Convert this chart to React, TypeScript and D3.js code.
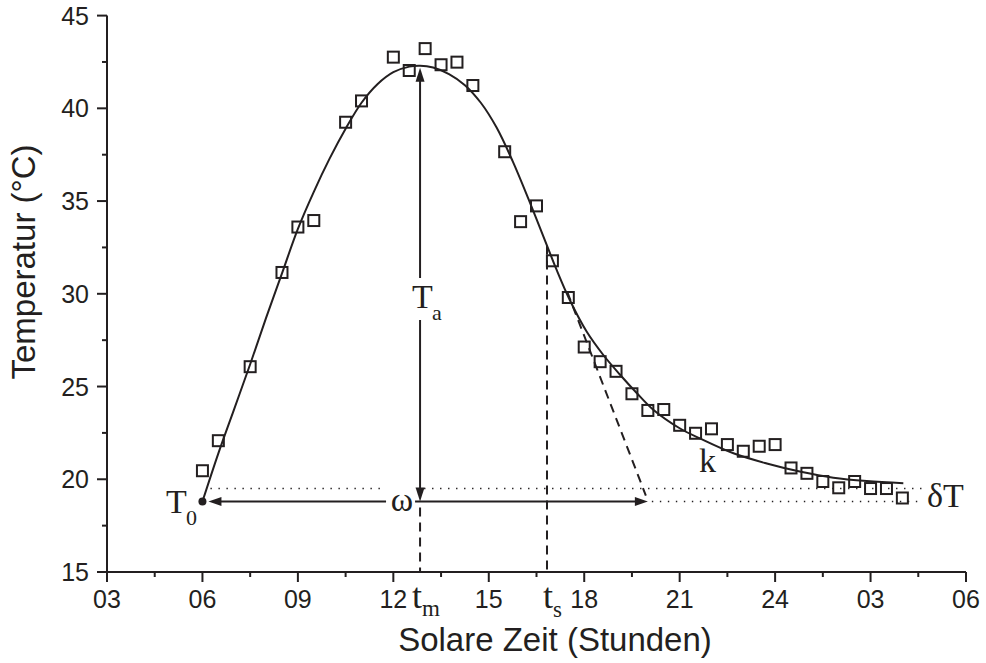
import React from "react";
import * as d3 from "d3";

// ---- data ----
const obsHours = [6.0, 6.5, 7.5, 8.5, 9.0, 9.5, 10.5, 11.0, 12.0, 12.5, 13.0, 13.5, 14.0, 14.5, 15.5, 16.0, 16.5, 17.0, 17.5, 18.0, 18.5, 19.0, 19.5, 20.0, 20.5, 21.0, 21.5, 22.0, 22.5, 23.0, 23.5, 24.0, 24.5, 25.0, 25.5, 26.0, 26.5, 27.0, 27.5, 28.0];
const obsTemps = [20.46, 22.08, 26.07, 31.15, 33.6, 33.95, 39.25, 40.4, 42.76, 42.04, 43.22, 42.35, 42.49, 41.23, 37.66, 33.89, 34.74, 31.78, 29.8, 27.13, 26.34, 25.82, 24.61, 23.71, 23.76, 22.91, 22.48, 22.72, 21.87, 21.51, 21.78, 21.87, 20.61, 20.32, 19.88, 19.54, 19.88, 19.5, 19.5, 18.99];

// fitted curve
const fitHours = [6.0, 6.5, 7.0, 7.5, 8.0, 8.5, 9.0, 9.5, 10.0, 10.5, 11.0, 11.5, 12.0, 12.5, 12.84, 13.25, 13.75, 14.25, 14.75, 15.25, 15.75, 16.25, 16.83, 17.13, 17.55, 18.08, 18.6, 19.12, 19.65, 20.17, 21.0, 21.64, 22.69, 23.74, 24.81, 25.83, 26.88, 28.03];
const fitTemps = [18.8, 21.4, 23.8, 26.2, 28.7, 31.1, 33.5, 35.5, 37.3, 38.9, 40.3, 41.3, 41.95, 42.25, 42.3, 42.2, 41.85, 41.25, 40.3, 38.95, 37.15, 35.1, 32.6, 31.3, 29.65, 27.95, 26.7, 25.65, 24.65, 23.75, 22.75, 22.2, 21.4, 20.85, 20.4, 20.08, 19.9, 19.79];

const xTickValues = [3, 6, 9, 12, 15, 18, 21, 24, 27, 30];
const xTickLabels = ["03", "06", "09", "12", "15", "18", "21", "24", "03", "06"];
const xMinorTicks = [4.5, 7.5, 10.5, 13.5, 16.5, 19.5, 22.5, 25.5, 28.5];
const yTickValues = [15, 20, 25, 30, 35, 40, 45];
const yMinorTicks = [17.5, 22.5, 27.5, 32.5, 37.5, 42.5];

// model parameters
const T0 = 18.8;
const T0dT = 19.5;
const tStart = 6.0;
const tm = 12.84;
const ts = 16.83;
const Tpeak = 42.24;
const Tts = 32.6;
const tangentStart = [17.47, 30.09];
const tangentEnd = [20.0, 18.8];

const INK = "#231f20";
const SANS = "'Liberation Sans', Arial, Helvetica, sans-serif";
const SERIF = "'Liberation Serif', 'Times New Roman', serif";

export default function App() {
  const W = 986, H = 663;
  const x = d3.scaleLinear().domain([3, 30]).range([107, 966]);
  const y = d3.scaleLinear().domain([15, 45]).range([572, 15.6]);

  const fitPts = fitHours.map((h, i) => [h, fitTemps[i]] as [number, number]);
  const line = d3
    .line<[number, number]>()
    .x((d) => x(d[0]))
    .y((d) => y(d[1]))
    .curve(d3.curveCatmullRom.alpha(0.5));

  const X = x(tm);
  const yT0 = y(T0);
  const yDT = y(T0dT);
  const yPeak = y(Tpeak);

  const tri = (tx: number, ty: number, dir: "up" | "down" | "left" | "right", len = 14, w = 9) => {
    const h = w / 2;
    switch (dir) {
      case "up":
        return `M${tx},${ty} L${tx - h},${ty + len} L${tx + h},${ty + len} Z`;
      case "down":
        return `M${tx},${ty} L${tx - h},${ty - len} L${tx + h},${ty - len} Z`;
      case "left":
        return `M${tx},${ty} L${tx + len},${ty - h} L${tx + len},${ty + h} Z`;
      default:
        return `M${tx},${ty} L${tx - len},${ty - h} L${tx - len},${ty + h} Z`;
    }
  };

  const leftTip = x(tStart) + 6;
  const rightTip = x(tangentEnd[0]);
  const sq = 11;

  return (
    <svg width={W} height={H} style={{ position: "absolute", left: 0, top: 0, background: "#fff" }}>
      {/* dotted reference lines */}
      <g stroke={INK} strokeWidth={1.4} strokeDasharray="1.4 6.6" fill="none">
        <line x1={x(tStart) + 8} y1={yDT} x2={X - 36} y2={yDT} />
        <line x1={X + 4} y1={yDT} x2={922} y2={yDT} />
        <line x1={rightTip + 4} y1={yT0} x2={920} y2={yT0} />
      </g>

      {/* dashed vertical lines tm, ts and tangent */}
      <g stroke={INK} strokeWidth={2} strokeDasharray="9 6" fill="none">
        <line x1={X} y1={yT0 + 6} x2={X} y2={y(15)} />
        <line x1={x(ts)} y1={y(Tts)} x2={x(ts)} y2={y(15)} />
        <line x1={x(tangentStart[0])} y1={y(tangentStart[1])} x2={x(tangentEnd[0]) - 2} y2={y(tangentEnd[1]) - 6} />
      </g>

      {/* fit curve */}
      <path d={line(fitPts) || ""} fill="none" stroke={INK} strokeWidth={2} />

      {/* observations */}
      <g fill="none" stroke={INK} strokeWidth={2}>
        {obsHours.map((h, i) => (
          <rect key={i} x={x(h) - sq / 2} y={y(obsTemps[i]) - sq / 2} width={sq} height={sq} />
        ))}
      </g>

      {/* Ta arrow */}
      <g stroke={INK} strokeWidth={2}>
        <line x1={X} y1={yPeak + 12} x2={X} y2={278} />
        <line x1={X} y1={320} x2={X} y2={yT0 - 12} />
      </g>
      <path d={tri(X, yPeak + 1, "up")} fill={INK} />
      <path d={tri(X, yT0, "down")} fill={INK} />

      {/* omega arrow */}
      <g stroke={INK} strokeWidth={2}>
        <line x1={leftTip + 10} y1={yT0} x2={X - 34} y2={yT0} />
        <line x1={X - 5} y1={yT0} x2={rightTip - 10} y2={yT0} />
      </g>
      <path d={tri(leftTip, yT0, "left", 13, 9)} fill={INK} />
      <path d={tri(rightTip, yT0, "right", 13, 9)} fill={INK} />
      <circle cx={x(tStart)} cy={yT0} r={4} fill={INK} />

      {/* annotation labels */}
      <g fill={INK} fontFamily={SERIF}>
        <text x={X - 8} y={308} fontSize={34}>T</text>
        <text x={X + 12} y={320} fontSize={22}>a</text>
        <text x={X - 7} y={511} fontSize={34} textAnchor="end">ω</text>
        <text x={166} y={513} fontSize={34}>T</text>
        <text x={186} y={525} fontSize={22}>0</text>
        <text x={699} y={472} fontSize={34}>k</text>
        <text x={927} y={507} fontSize={34}>δT</text>
        <text x={X - 8} y={608} fontSize={36}>t</text>
        <text x={X + 2} y={616} fontSize={23}>m</text>
        <text x={x(ts) - 4} y={608} fontSize={36}>t</text>
        <text x={x(ts) + 6} y={617} fontSize={23}>s</text>
      </g>

      {/* axes */}
      <g stroke={INK} strokeWidth={2} fill="none">
        <line x1={x(3)} y1={y(15)} x2={x(30)} y2={y(15)} />
        <line x1={x(3)} y1={y(15) + 1} x2={x(3)} y2={y(45)} />
        {xTickValues.map((v) => (
          <line key={"xt" + v} x1={x(v)} y1={y(15)} x2={x(v)} y2={y(15) + 10} />
        ))}
        {xMinorTicks.map((v) => (
          <line key={"xm" + v} x1={x(v)} y1={y(15)} x2={x(v)} y2={y(15) + 5} />
        ))}
        {yTickValues.map((v) => (
          <line key={"yt" + v} x1={x(3)} y1={y(v)} x2={x(3) - 10} y2={y(v)} />
        ))}
        {yMinorTicks.map((v) => (
          <line key={"ym" + v} x1={x(3)} y1={y(v)} x2={x(3) - 5} y2={y(v)} />
        ))}
      </g>
      <g fill={INK} fontFamily={SANS} fontSize={25}>
        {xTickValues.map((v, i) => (
          <text key={"xl" + v} x={x(v)} y={608} textAnchor="middle">
            {xTickLabels[i]}
          </text>
        ))}
        {yTickValues.map((v) => (
          <text key={"yl" + v} x={89} y={y(v) + 9} textAnchor="end">
            {v}
          </text>
        ))}
      </g>
      <text x={555} y={651} fill={INK} fontFamily={SANS} fontSize={33} textAnchor="middle">
        Solare Zeit (Stunden)
      </text>
      <text
        transform={`translate(35,262) rotate(-90)`}
        fill={INK}
        fontFamily={SANS}
        fontSize={33}
        textAnchor="middle"
      >
        Temperatur (°C)
      </text>
    </svg>
  );
}
